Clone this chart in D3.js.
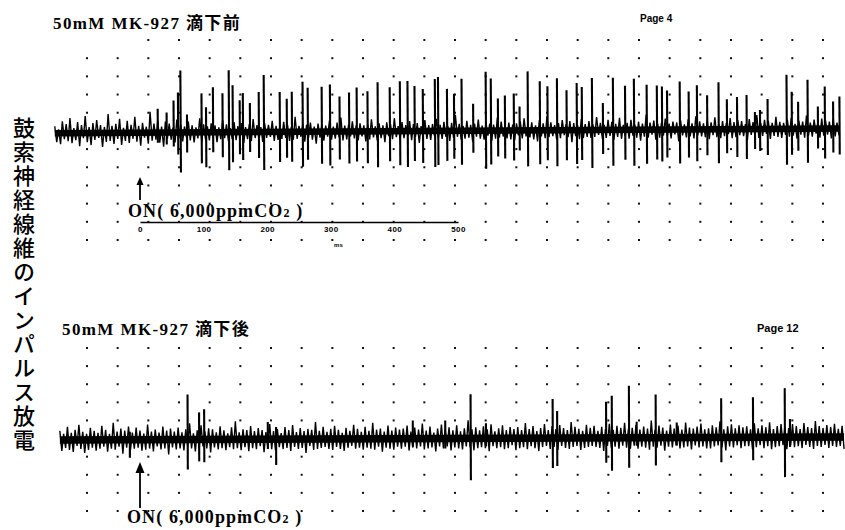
<!DOCTYPE html>
<html>
<head>
<meta charset="utf-8">
<script src="https://cdn.jsdelivr.net/npm/d3@7"></script>
<style>
  html, body { margin: 0; padding: 0; background: #fff; }
  svg { display: block; }
</style>
</head>
<body>
<svg id="chart" width="845" height="530"></svg>
<script>
// ---- text ----
const panelTitles = ["50mM MK-927 滴下前", "50mM MK-927 滴下後"];
const pageLabels = ["Page 4", "Page 12"];
const yAxisLabel = "鼓索神経線維のインパルス放電";
const stimulusLabel = ["ON( 6,000ppmCO", "2", " )"];
const scaleTicks = [0, 100, 200, 300, 400, 500];
const scaleUnit = "ms";

// ---- recordings (time in ms from CO2 onset, amplitude in a.u.) ----
const sampleStep = 3;
const topStart = -134;
const bottomStart = -126;

// baseline noise, one sample every sampleStep ms
const topNoise = [
  7,-9,4,-11,12,-6,9,-8,15,-10,5,-7,11,-13,8,-5,17,-9,6,-12,
  10,-7,13,-5,8,-14,6,-9,19,-8,7,-11,9,-6,14,-12,5,-8,12,-10,
  8,-6,16,-9,7,-13,10,-5,6,-11,21,-8,9,-7,12,-10,6,-14,11,-6,
  9,-7,5,-10,13,-6,8,-9,6,-5,11,-8,7,-10,5,-6,14,-9,8,-7,
  6,-8,9,-5,7,-10,5,-7,12,-6,8,-9,4,-7,10,-8,6,-5,9,-11,
  5,-7,8,-9,13,-6,7,-8,5,-10,9,-6,7,-5,11,-9,6,-8,4,-7,
  10,-6,7,-9,5,-8,15,-7,6,-5,8,-10,7,-6,9,-8,5,-12,8,-6,
  7,-9,6,-5,11,-8,5,-7,9,-6,14,-9,6,-8,7,-5,10,-7,6,-9,
  8,-5,6,-10,7,-8,12,-6,5,-9,8,-7,6,-11,9,-5,7,-8,13,-6,
  5,-8,9,-7,6,-5,10,-9,7,-6,8,-12,5,-7,11,-8,6,-9,7,-5,
  12,-7,6,-8,9,-6,5,-10,8,-7,16,-6,7,-9,5,-8,10,-7,6,-11,
  7,-6,11,-8,5,-9,8,-5,7,-10,6,-8,13,-7,9,-6,5,-8,8,-9,
  6,-10,7,-5,9,-8,12,-6,6,-7,8,-9,5,-11,10,-6,7,-8,14,-7,
  8,-6,5,-9,7,-8,10,-5,6,-7,9,-12,7,-6,5,-9,11,-8,6,-7,
  9,-8,6,-7,13,-5,7,-9,5,-8,10,-6,8,-10,6,-7,12,-9,5,-6,
  7,-9,10,-6,5,-8,8,-11,6,-7,15,-8,7,-5,9,-10,6,-8,7,-6,
  11,-7,6,-9,8,-5,7,-12,9,-6,5,-8,10,-7,6,-9,13,-6,8,-7,
  6,-8,9,-10,7,-6,12,-8,5,-9,8,-7,6,-5,11,-9,7,-8,9,-6,
  8,-7,5,-11,10,-6,7,-8,14,-9,6,-7,9,-5,8,-10,6,-7,12,-8,
  7,-9,6,-6,9,-8,11,-7,5,-10,8,-6,7,-9,13,-7,6,-8,9,-5,
  6,-9,10,-7,8,-6,7,-10,9,-8,6,-7
];
const bottomNoise = [
  9,-11,6,-8,13,-10,7,-12,10,-6,15,-9,8,-13,6,-10,12,-8,9,-11,
  7,-9,14,-7,10,-12,6,-9,17,-10,8,-7,11,-14,9,-8,13,-10,7,-9,
  12,-8,9,-11,6,-10,15,-9,8,-12,10,-7,7,-10,13,-9,9,-15,11,-8,
  8,-10,12,-9,7,-11,10,-8,16,-9,6,-12,9,-10,14,-7,8,-9,11,-13,
  10,-8,7,-10,13,-9,9,-11,6,-8,12,-10,18,-9,7,-11,10,-8,9,-12,
  13,-9,8,-10,11,-7,9,-13,7,-9,15,-10,8,-11,10,-8,6,-10,12,-9,
  9,-12,14,-8,7,-10,11,-9,8,-14,10,-7,9,-11,17,-10,8,-9,12,-8,
  7,-10,10,-11,13,-8,9,-10,6,-12,11,-9,8,-7,14,-10,10,-9,7,-11,
  12,-9,8,-10,16,-11,9,-8,10,-13,7,-9,13,-10,8,-11,11,-8,9,-10,
  10,-8,13,-12,7,-9,11,-10,9,-8,15,-11,8,-10,12,-9,6,-13,10,-8,
  14,-10,9,-8,11,-12,8,-9,13,-10,7,-11,10,-8,18,-9,9,-12,11,-10,
  8,-9,12,-10,9,-13,14,-8,7,-10,10,-9,13,-11,8,-10,11,-7,9,-12,
  11,-10,8,-9,15,-11,9,-8,12,-10,7,-13,10,-9,14,-8,8,-11,12,-9,
  9,-12,13,-8,10,-10,8,-11,16,-9,11,-8,9,-12,7,-10,13,-9,10,-8,
  12,-9,7,-10,11,-13,9,-8,14,-10,8,-9,12,-11,10,-8,15,-10,9,-11,
  10,-8,13,-11,8,-9,11,-10,9,-12,17,-9,8,-10,12,-8,10,-13,7,-9,
  13,-10,9,-8,12,-11,8,-10,15,-9,10,-12,9,-8,11,-10,14,-9,8,-11,
  9,-11,12,-9,10,-8,16,-10,8,-13,11,-9,13,-10,9,-8,12,-11,10,-9,
  11,-9,8,-12,14,-10,9,-8,12,-11,10,-9,15,-12,8,-10,11,-9,13,-8,
  10,-12,9,-8,13,-10,11,-9,8,-11,14,-8,10,-10,9,-12,16,-9,11,-10,
  9,-8,12,-11,10,-9,13,-10,8,-9,11,-12
];

// impulses: [time ms, upward peak, downward peak]
const topSpikes = [
  [28,24,10],[42,20,12],[53,32,14],[60,40,22],[64,62,40],[74,18,20],[97,39,31],[104,25,35],
  [115,45,20],[130,39,25],[140,62,38],[146,47,30],[157,32,22],[162,39,28],[173,29,20],[187,40,26],
  [195,57,38],[220,40,30],[231,33,26],[239,40,30],[256,50,35],[264,44,28],[286,45,32],[299,47,34],
  [314,35,28],[329,39,32],[341,44,30],[358,40,32],[374,49,36],[393,44,30],[409,50,34],[421,50,36],
  [432,45,30],[445,42,32],[464,52,36],[469,54,34],[483,42,30],[494,37,28],[506,52,34],[524,27,22],
  [544,59,38],[552,52,34],[563,32,26],[574,35,28],[588,37,30],[597,24,20],[610,59,36],[629,49,34],
  [641,44,30],[656,52,36],[671,40,30],[687,47,34],[695,43,30],[711,52,38],[728,27,24],[744,52,36],
  [763,44,30],[777,51,36],[797,45,34],[813,44,30],[821,43,32],[829,39,28],[849,48,34],[863,38,28],
  [876,44,32],[892,34,26],[910,47,34],[923,30,24],[939,32,28],[954,34,30],[967,17,20],[975,19,22],
  [987,30,26],[1017,54,36],[1025,37,26],[1035,27,22],[1050,49,34],[1066,22,20],[1077,42,30],[1090,27,24],
  [1100,32,26]
];
const bottomSpikes = [
  [-16,8,18],[75,45,30],[93,27,22],[101,30,23],[201,17,10],[214,12,26],[429,18,8],[480,18,10],
  [520,44,42],[544,15,8],[649,39,30],[656,27,28],[733,36,25],[742,42,33],[769,52,30],[781,16,8],
  [811,43,28],[844,15,8],[914,39,25],[964,40,23],[1014,49,40],[1022,18,10]
];

// ---- drawing ----
const svg = d3.select("#chart");
svg.append("rect").attr("width", 845).attr("height", 530).attr("fill", "#fff");

const x = d3.scaleLinear().domain([0, 500]).range([140, 458]);

const serif = "'Liberation Serif','Noto Sans CJK JP',serif";
const sans = "'Liberation Sans','Noto Sans',Arial,sans-serif";

// chart-paper dot grid
const gridX = d3.scaleLinear().domain([0, 24]).range([87, 823]);
const grids = [
  {rows: d3.scaleLinear().domain([0, 11]).range([40, 240]), nRows: 12, firstRowFrom: 2},
  {rows: d3.scaleLinear().domain([0, 9]).range([348, 511]), nRows: 10, firstRowFrom: 0}
];
const dots = svg.append("g").attr("fill", "#111");
grids.forEach(g => {
  d3.range(g.nRows).forEach(r => {
    d3.range(25).forEach(c => {
      if (r === 0 && c < g.firstRowFrom) return;
      dots.append("rect")
        .attr("x", gridX(c) - 1).attr("y", g.rows(r) - 1)
        .attr("width", 2).attr("height", 2);
    });
  });
});

function drawTrace(opts) {
  const y = d3.scaleLinear().domain([-100, 100]).range([opts.base + 100, opts.base - 100]);
  const g = svg.append("g")
    .attr("transform", `rotate(${opts.tilt},${x(450)},${opts.base})`);
  const tEnd = opts.start + (opts.noise.length - 1) * sampleStep;

  // solid core of the baseline
  g.append("path")
    .datum([opts.start, tEnd])
    .attr("d", d3.line().x(t => x(t)).y(() => y(0)))
    .attr("stroke", "#000").attr("stroke-width", opts.core).attr("fill", "none");

  // baseline noise
  g.append("path")
    .datum(opts.noise.map((v, i) => [opts.start + i * sampleStep, v]))
    .attr("d", d3.line().x(d => x(d[0])).y(d => y(d[1])))
    .attr("stroke", "#000").attr("stroke-width", 1.4).attr("fill", "none");

  // impulses
  g.selectAll("line.spike").data(opts.spikes).join("line")
    .attr("class", "spike")
    .attr("x1", d => x(d[0])).attr("x2", d => x(d[0]))
    .attr("y1", d => y(d[1])).attr("y2", d => y(-d[2]))
    .attr("stroke", "#000").attr("stroke-width", 2.1);
}

drawTrace({base: 131, tilt: -0.35, start: topStart, noise: topNoise, spikes: topSpikes, core: 6.5});
drawTrace({base: 438.5, tilt: -0.22, start: bottomStart, noise: bottomNoise, spikes: bottomSpikes, core: 7.5});

// titles and page numbers
svg.append("text").attr("x", 53).attr("y", 29).text(panelTitles[0])
  .attr("font-family", serif).attr("font-weight", "bold").attr("font-size", 17)
  .attr("letter-spacing", 1.4);
svg.append("text").attr("x", 62).attr("y", 335).text(panelTitles[1])
  .attr("font-family", serif).attr("font-weight", "bold").attr("font-size", 17)
  .attr("letter-spacing", 1.4);
svg.append("text").attr("x", 640).attr("y", 22).text(pageLabels[0])
  .attr("font-family", sans).attr("font-weight", "bold").attr("font-size", 10);
svg.append("text").attr("x", 757).attr("y", 332).text(pageLabels[1])
  .attr("font-family", sans).attr("font-weight", "bold").attr("font-size", 11);

// vertical label
svg.append("text")
  .attr("x", 24).attr("y", 117)
  .attr("font-family", "'Noto Sans CJK JP',sans-serif")
  .attr("font-weight", 500).attr("font-size", 22)
  .attr("letter-spacing", 2)
  .style("writing-mode", "vertical-rl")
  .style("text-orientation", "upright")
  .text(yAxisLabel);

// stimulus onset markers
function onsetMarker(tipY, baseY, endY, half, labelX, labelY) {
  const cx = x(0);
  svg.append("line").attr("x1", cx).attr("x2", cx).attr("y1", baseY - 1).attr("y2", endY)
    .attr("stroke", "#000").attr("stroke-width", 1.8);
  svg.append("path")
    .attr("d", `M${cx},${tipY} L${cx - half},${baseY} L${cx + half},${baseY} Z`)
    .attr("fill", "#000");
  const t = svg.append("text").attr("x", labelX).attr("y", labelY)
    .attr("font-family", serif).attr("font-weight", "bold").attr("font-size", 18)
    .attr("letter-spacing", 1.1);
  t.append("tspan").text(stimulusLabel[0]);
  t.append("tspan").attr("font-size", 12).text(stimulusLabel[1]);
  t.append("tspan").text(stimulusLabel[2]);
}
onsetMarker(177, 185, 200, 3.5, 128, 217);
onsetMarker(462, 473, 508, 4.5, 127, 523);

// time scale bar
const axis = d3.axisBottom(x).tickValues(scaleTicks).tickSize(0).tickSizeOuter(0).tickPadding(4);
const ag = svg.append("g").attr("transform", "translate(0,222)").call(axis);
ag.select(".domain").attr("stroke", "#000").attr("stroke-width", 1.7);
ag.selectAll("text").attr("font-family", sans).attr("font-weight", "bold")
  .attr("font-size", 8).attr("letter-spacing", 0.4).attr("fill", "#000");
svg.append("text").attr("x", x(312)).attr("y", 247).attr("text-anchor", "middle")
  .attr("font-family", sans).attr("font-weight", "bold").attr("font-size", 6)
  .text(scaleUnit);
</script>
</body>
</html>
